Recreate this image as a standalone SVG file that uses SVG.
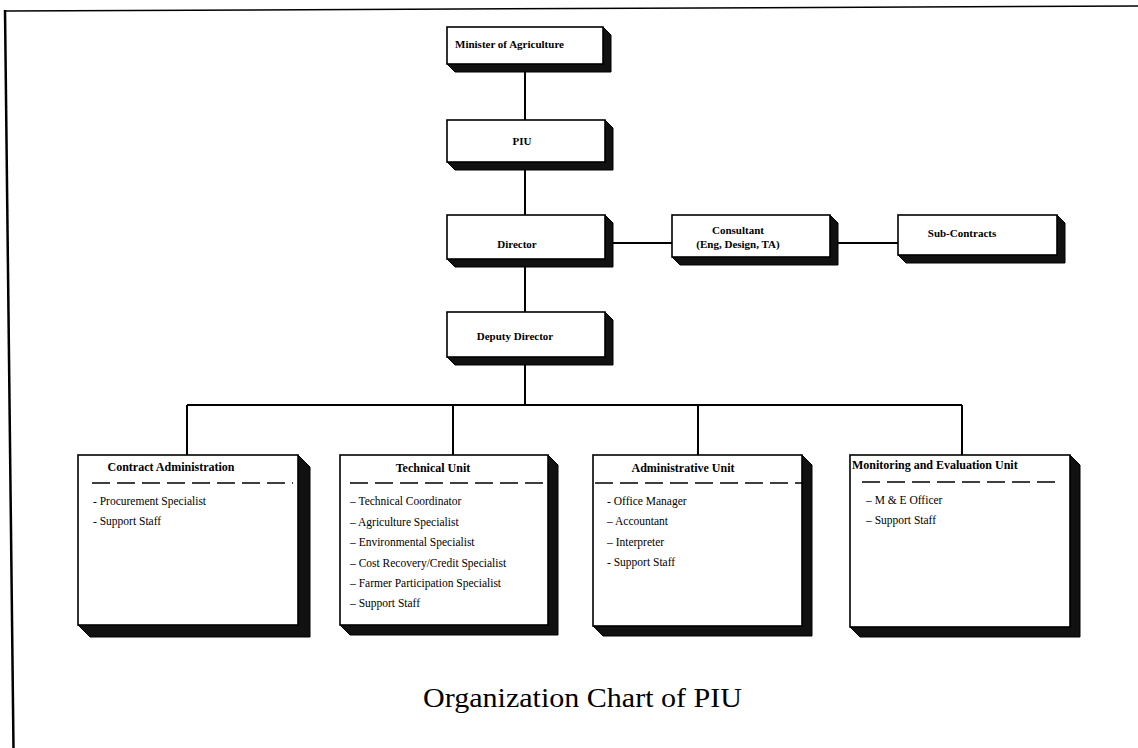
<svg xmlns="http://www.w3.org/2000/svg" width="1138" height="748" viewBox="0 0 1138 748">
<style>
.face{fill:#fff;stroke:#000;stroke-width:1.6}
.shadow{fill:#111;stroke:#000;stroke-width:1}
.conn line{stroke:#000;stroke-width:2}
.lbl{font-family:"Liberation Serif","Times New Roman",serif;font-size:11px;font-weight:bold;fill:#000}
.utitle{font-family:"Liberation Serif","Times New Roman",serif;font-size:12px;font-weight:bold;fill:#000}
.item{font-family:"Liberation Serif","Times New Roman",serif;font-size:11.5px;fill:#000}
.dash{stroke:#000;stroke-width:1.6;stroke-dasharray:18 7}
.title{font-family:"Liberation Serif","Times New Roman",serif;font-size:28px;fill:#000}
</style>
<rect width="1138" height="748" fill="#fff"/>
<g id="frame">
<line x1="5" y1="10" x2="13.5" y2="748" stroke="#000" stroke-width="2.5"/>
<line x1="5" y1="11" x2="1138" y2="6" stroke="#000" stroke-width="1.5"/>
</g>
<g class="conn" id="connectors">
<line x1="525" y1="64" x2="525" y2="120"/>
<line x1="525" y1="162" x2="525" y2="215"/>
<line x1="525" y1="259" x2="525" y2="312"/>
<line x1="525" y1="357" x2="525" y2="405"/>
<line x1="613" y1="243" x2="672" y2="243"/>
<line x1="838" y1="243" x2="898" y2="243"/>
<line x1="187" y1="405" x2="962" y2="405"/>
<line x1="187" y1="405" x2="187" y2="455"/>
<line x1="453" y1="405" x2="453" y2="455"/>
<line x1="698" y1="405" x2="698" y2="455"/>
<line x1="962" y1="405" x2="962" y2="455"/>
</g>
<g id="minister">
<path class="shadow" d="M603,27 L611,35 L611,72 L455,72 L447,64 L603,64 Z"/>
<rect class="face" x="447" y="27" width="156" height="37"/>
<text class="lbl" x="455" y="48">Minister of Agriculture</text>
</g>
<g id="piu">
<path class="shadow" d="M605,120 L613,128 L613,170 L455,170 L447,162 L605,162 Z"/>
<rect class="face" x="447" y="120" width="158" height="42"/>
<text class="lbl" x="522" y="145" text-anchor="middle">PIU</text>
</g>
<g id="director">
<path class="shadow" d="M605,215 L613,223 L613,267 L455,267 L447,259 L605,259 Z"/>
<rect class="face" x="447" y="215" width="158" height="44"/>
<text class="lbl" x="517" y="248" text-anchor="middle">Director</text>
</g>
<g id="consultant">
<path class="shadow" d="M830,215 L838,223 L838,265 L680,265 L672,257 L830,257 Z"/>
<rect class="face" x="672" y="215" width="158" height="42"/>
<text class="lbl" x="738" y="234" text-anchor="middle">Consultant</text>
<text class="lbl" x="738" y="248" text-anchor="middle">(Eng, Design, TA)</text>
</g>
<g id="subcontracts">
<path class="shadow" d="M1057,215 L1065,223 L1065,263 L906,263 L898,255 L1057,255 Z"/>
<rect class="face" x="898" y="215" width="159" height="40"/>
<text class="lbl" x="962" y="237" text-anchor="middle">Sub-Contracts</text>
</g>
<g id="deputy">
<path class="shadow" d="M605,312 L613,320 L613,365 L455,365 L447,357 L605,357 Z"/>
<rect class="face" x="447" y="312" width="158" height="45"/>
<text class="lbl" x="515" y="340" text-anchor="middle">Deputy Director</text>
</g>
<g id="contract-admin">
<path class="shadow" d="M298,455 L310,467 L310,637 L90,637 L78,625 L298,625 Z"/>
<rect class="face" x="78" y="455" width="220" height="170"/>
<text class="utitle" x="171" y="471" text-anchor="middle">Contract Administration</text>
<line class="dash" x1="92" y1="483" x2="293" y2="483"/>
<text class="item" x="93" y="505">-  Procurement Specialist</text>
<text class="item" x="93" y="525">-  Support Staff</text>
</g>
<g id="technical-unit">
<path class="shadow" d="M548,455 L558,465 L558,635 L350,635 L340,625 L548,625 Z"/>
<rect class="face" x="340" y="455" width="208" height="170"/>
<text class="utitle" x="433" y="472" text-anchor="middle">Technical Unit</text>
<line class="dash" x1="350" y1="483" x2="547" y2="483"/>
<text class="item" x="350" y="505">–  Technical Coordinator</text>
<text class="item" x="350" y="526">–  Agriculture Specialist</text>
<text class="item" x="350" y="546">–  Environmental Specialist</text>
<text class="item" x="350" y="567">–  Cost Recovery/Credit Specialist</text>
<text class="item" x="350" y="587">–  Farmer Participation Specialist</text>
<text class="item" x="350" y="607">–  Support Staff</text>
</g>
<g id="administrative-unit">
<path class="shadow" d="M802,455 L812,465 L812,636 L603,636 L593,626 L802,626 Z"/>
<rect class="face" x="593" y="455" width="209" height="171"/>
<text class="utitle" x="683" y="472" text-anchor="middle">Administrative Unit</text>
<line class="dash" x1="595" y1="483" x2="803" y2="483"/>
<text class="item" x="607" y="505">-  Office Manager</text>
<text class="item" x="607" y="525">–  Accountant</text>
<text class="item" x="607" y="546">–  Interpreter</text>
<text class="item" x="607" y="566">-  Support Staff</text>
</g>
<g id="me-unit">
<path class="shadow" d="M1070,455 L1080,465 L1080,637 L860,637 L850,627 L1070,627 Z"/>
<rect class="face" x="850" y="455" width="220" height="172"/>
<text class="utitle" x="852" y="469">Monitoring and Evaluation Unit</text>
<line class="dash" x1="862" y1="482" x2="1062" y2="482"/>
<text class="item" x="866" y="504">–  M &amp; E Officer</text>
<text class="item" x="866" y="524">–  Support Staff</text>
</g>
<text class="title" x="582.5" y="707" text-anchor="middle" textLength="319" lengthAdjust="spacingAndGlyphs">Organization Chart of PIU</text>
</svg>
